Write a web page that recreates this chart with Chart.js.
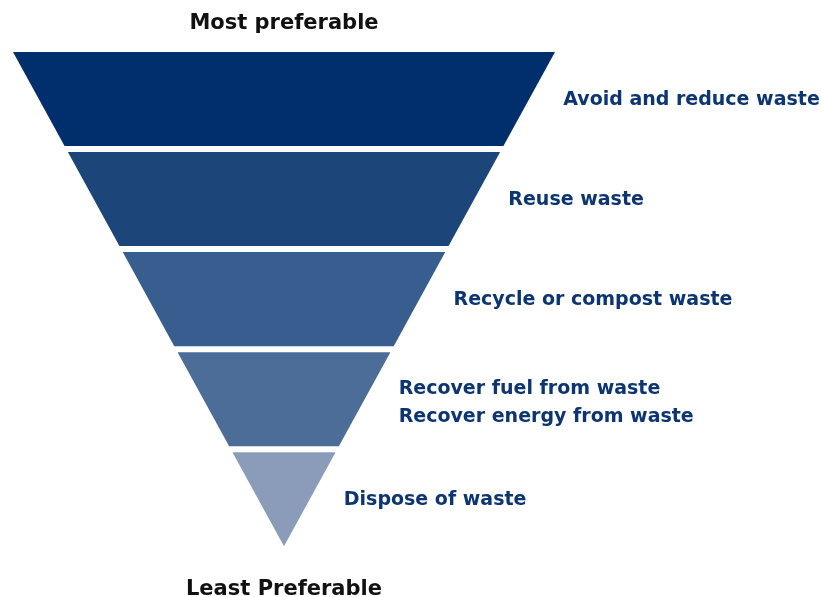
<!DOCTYPE html>
<html><head><meta charset="utf-8">
<script src="https://cdn.jsdelivr.net/npm/chart.js@4"></script>
<style>html,body{margin:0;padding:0;background:#fff}#wrap{width:822px;height:597px}</style>
</head><body><div id="wrap"><canvas id="c"></canvas></div>
<script>
// Waste hierarchy stages (top = most preferable)
const stageLabels = [
  ["Avoid and reduce waste"],
  ["Reuse waste"],
  ["Recycle or compost waste"],
  ["Recover fuel from waste", "Recover energy from waste"],
  ["Dispose of waste"]
];
// vertical extent of each band (apex of funnel = 0); half-width equals level
const stageTop    = [4.94, 3.94, 2.94, 1.94, 0.94];
const stageBottom = [4.00, 3.00, 2.00, 1.00, 0.00];
const stageColors = ['#012f6d', '#1c4679', '#385e8f', '#4d6d99', '#8a9cb9'];
const topTitle = 'Most preferable';
const bottomTitle = 'Least Preferable';

const FONT = "'DejaVu Sans', 'Open Sans', sans-serif";

const datasets = stageLabels.map((lab, i) => ({
  label: lab.join(' / '),
  data: [
    {x: -stageTop[i], y: stageTop[i]},
    {x: -stageBottom[i], y: stageBottom[i]},
    {x: stageBottom[i], y: stageBottom[i]},
    {x: stageTop[i], y: stageTop[i]}
  ],
  showLine: true,
  borderWidth: 0,
  borderColor: 'rgba(0,0,0,0)',
  backgroundColor: stageColors[i],
  pointRadius: 0,
  pointHoverRadius: 0,
  tension: 0,
  fill: {value: stageTop[i]}
}));

const labelPlugin = {
  id: 'stageLabels',
  afterDatasetsDraw(chart) {
    const {ctx, scales: {x, y}} = chart;
    ctx.save();
    ctx.font = "bold 19px " + FONT;
    ctx.fillStyle = '#0d3572';
    ctx.textBaseline = 'middle';
    ctx.textAlign = 'left';
    stageLabels.forEach((lines, i) => {
      const mid = (stageTop[i] + stageBottom[i]) / 2;
      const px = x.getPixelForValue(mid) + 34;
      const py = y.getPixelForValue(mid) + 1;
      const lh = 28;
      lines.forEach((t, k) => {
        ctx.fillText(t, px, py + (k - (lines.length - 1) / 2) * lh + (lines.length > 1 ? 3 : 0));
      });
    });
    ctx.restore();
  }
};

new Chart(document.getElementById('c'), {
  type: 'scatter',
  data: {datasets},
  options: {
    responsive: true,
    maintainAspectRatio: false,
    animation: false,
    layout: {padding: {left: 13, right: 267, top: 5, bottom: 0}},
    plugins: {legend: {display: false}, tooltip: {enabled: false}},
    scales: {
      x: {
        type: 'linear', min: -4.94, max: 4.94, position: 'bottom',
        grid: {display: false, drawTicks: false}, border: {display: false},
        ticks: {display: false},
        title: {display: true, text: bottomTitle, color: '#111',
          font: {family: FONT, size: 21, weight: 'bold', lineHeight: 0.7},
          padding: {top: 36, bottom: 0}}
      },
      xTop: {
        type: 'linear', min: -4.94, max: 4.94, position: 'top',
        grid: {display: false, drawTicks: false}, border: {display: false},
        ticks: {display: false},
        title: {display: true, text: topTitle, color: '#111',
          font: {family: FONT, size: 21, weight: 'bold', lineHeight: 1},
          padding: {top: 8, bottom: 18}}
      },
      y: {
        type: 'linear', min: 0, max: 4.94, display: false
      }
    }
  },
  plugins: [labelPlugin]
});
</script>
</body></html>
